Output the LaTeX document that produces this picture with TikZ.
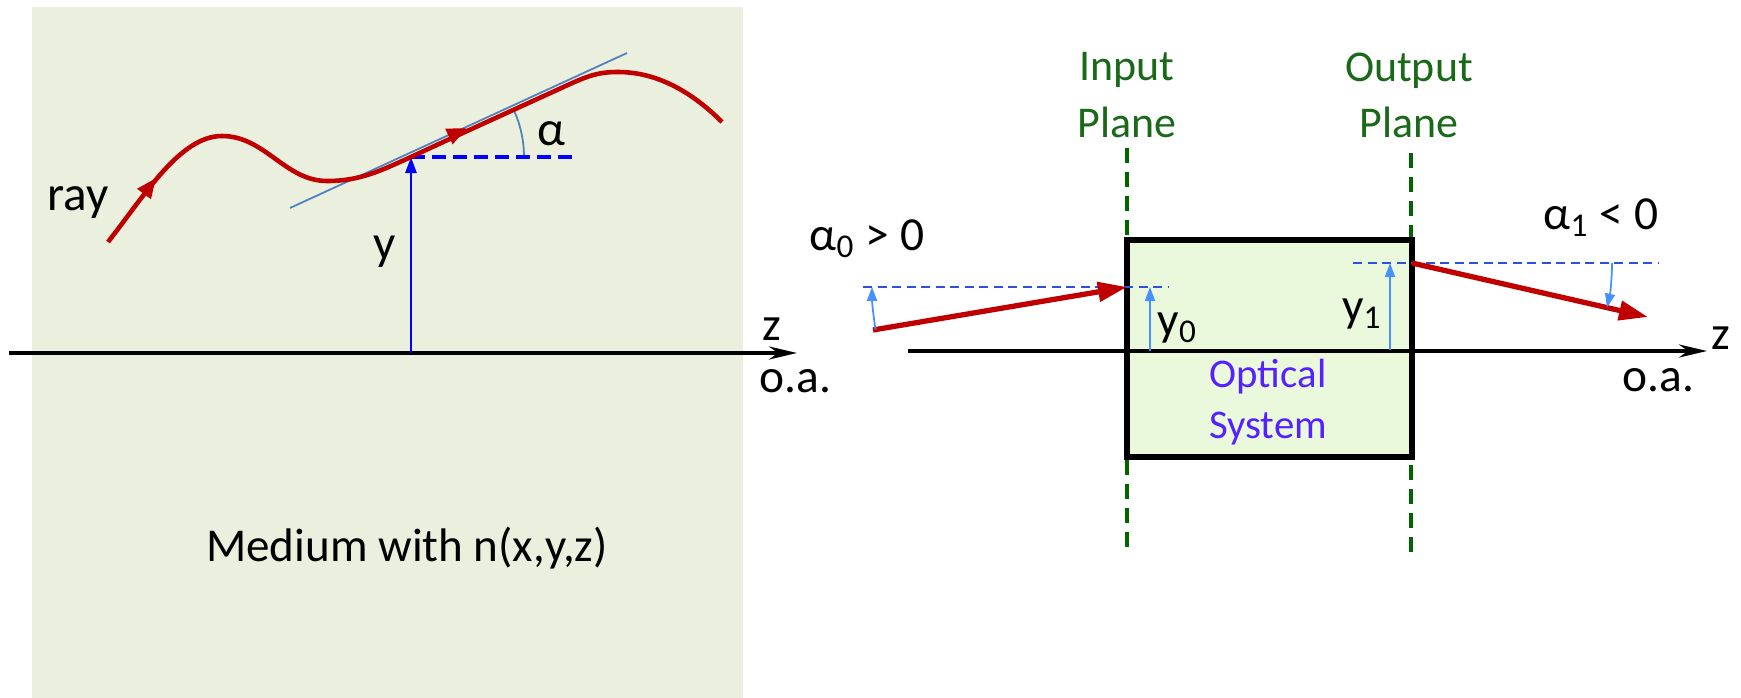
\documentclass[tikz,border=0pt]{standalone}
\usepackage{fontspec}
\setmainfont{Carlito}
\usetikzlibrary{arrows.meta, calc}
\definecolor{mediumbg}{RGB}{235,239,222}
\definecolor{sysbg}{RGB}{234,248,220}
\definecolor{raycol}{RGB}{192,0,0}
\definecolor{tancol}{RGB}{79,129,189}
\definecolor{planecol}{RGB}{0,100,0}
\definecolor{planetxt}{RGB}{25,105,25}
\definecolor{pale}{RGB}{70,145,255}
\definecolor{hdash}{RGB}{45,80,225}
\definecolor{systxt}{RGB}{85,34,255}
\newcommand{\fs}[1]{\fontsize{#1}{#1}\selectfont}

\begin{document}
\begin{tikzpicture}[
  x=0.1mm, y=-0.1mm,
  lbl/.style={font=\fs{14}, inner sep=0pt},
  small/.style={font=\fs{13.5}, inner sep=0pt},
  plane/.style={font=\fontsize{12.5}{16}\selectfont, text=planetxt, align=center, inner sep=0pt},
  rayline/.style={draw=raycol, line width=1.3pt},
  raytip/.style={draw=raycol, line width=1.3pt, -{Triangle[length=2mm, width=1.6mm]}},
  bigray/.style={draw=raycol, line width=1.5pt, -{Triangle[length=2.9mm, width=1.9mm]}},
  axis/.style={line width=1.05pt, -{Stealth[length=2.8mm, width=1.3mm]}},
  hdashed/.style={draw=hdash, line width=0.5pt, dash pattern=on 0.9mm off 0.55mm},
  pln/.style={draw=planecol, line width=0.9pt, dash pattern=on 1.5mm off 0.9mm},
  thinarr/.style={draw=pale, line width=0.5pt, -{Triangle[length=1.4mm, width=1mm]}}
]
\useasboundingbox (0,0) rectangle (1741,698);

% ---------- left: ray in a graded medium ----------
\node[fill=mediumbg, inner sep=0pt, outer sep=0pt, minimum width=71.1mm,
      minimum height=69.1mm, anchor=north west] (medium) at (32,7) {};
\node[font=\fs{13.4}, inner sep=0pt] (mediumtxt) at (407,548) {Medium with n(x,y,z)};

\coordinate (zl0) at (9,353);
\coordinate (zl1) at (797,353);
\coordinate (o) at (411,353);
\coordinate (p) at (411,157);
\coordinate (pd) at (577,157);
\coordinate (t0) at (290,208);
\coordinate (t1) at (627,53);

\draw[axis] (zl0) -- (zl1);
\draw[tancol, line width=0.5pt] (t0) -- (t1);
\draw[tancol, line width=0.5pt] ($(p)+(113,0)$) arc[start angle=0, end angle=-25, radius=113];
\draw[blue, line width=1pt, dash pattern=on 1.4mm off 0.7mm] (p) -- (pd);
\draw[blue, line width=0.75pt, -{Triangle[length=1.6mm, width=1.1mm]}] (o) -- (p);

\draw[rayline] (108,242) .. controls (145,195) and (180,136) .. (222,136)
  .. controls (265,136) and (285,181) .. (327,181)
  .. controls (360,181) and (380,171) .. (p)
  .. controls (460,134) and (520,107) .. (570,84)
  .. controls (590,75) and (600,72) .. (618,72)
  .. controls (660,72) and (695,95) .. (722,122);
\draw[raytip] (144,194) -- (156,178);
\draw[raytip] (449,136.5) -- (467,128);

\node[lbl, anchor=base east] (raylbl) at (109,210) {ray};
\node[lbl] (ylbl) at (385,252) {y};
\node[lbl] (alphalbl) at (551,134) {α};
\node[small] (zlbl) at (772,329) {z};
\node[small, anchor=west] (oalbl) at (759,381) {o.a.};

% ---------- right: optical system between the two planes ----------
\coordinate (in0) at (873,330);
\coordinate (in1) at (1127,287);
\coordinate (out0) at (1412,263);
\coordinate (out1) at (1648,317);
\coordinate (zr0) at (908,351);
\coordinate (zr1) at (1707,351);

\draw[pln] (1127,148) -- (1127,555);
\draw[pln] (1411,153) -- (1411,558);

\node[draw, line width=1.9pt, fill=sysbg, inner sep=0pt, outer sep=0pt,
      minimum width=28.5mm, minimum height=21.7mm, anchor=north west] (sys) at (1127,240) {};
\draw[axis] (zr0) -- (zr1);
\node[font=\fontsize{11.6}{14.5}\selectfont, text=systxt, align=center, inner sep=0pt]
  (systxt) at (1268,402) {Optical\\System};

\draw[hdashed] (863,287) -- (1168,287);
\draw[hdashed] (1353,263) -- (1658,263);
\draw[bigray] (in0) -- (in1);
\draw[bigray] (out0) -- (out1);
\draw[thinarr] (1150,351) -- (1150,287);
\draw[thinarr] (1390,350) -- (1390,263);
\draw[thinarr] (875.6,329.5) arc[start angle=170.4, end angle=180, radius=255];
\draw[thinarr] (1612,263) arc[start angle=0, end angle=12.9, radius=200];

\node[plane, anchor=north] (inlbl) at (1127,52) {Input\\Plane};
\node[plane, anchor=north] (outlbl) at (1409,52) {Output\\Plane};
\node[small, anchor=base] (a0lbl) at (867,250) {α\textsubscript{0} > 0};
\node[small, anchor=base] (a1lbl) at (1601,229) {α\textsubscript{1} < 0};
\node[small, anchor=base west] (y0lbl) at (1157,335) {y\textsubscript{0}};
\node[small, anchor=base east] (y1lbl) at (1383,321) {y\textsubscript{1}};
\node[small] (zrlbl) at (1721,338) {z};
\node[small, anchor=west] (oarlbl) at (1622,380) {o.a.};
\end{tikzpicture}
\end{document}
